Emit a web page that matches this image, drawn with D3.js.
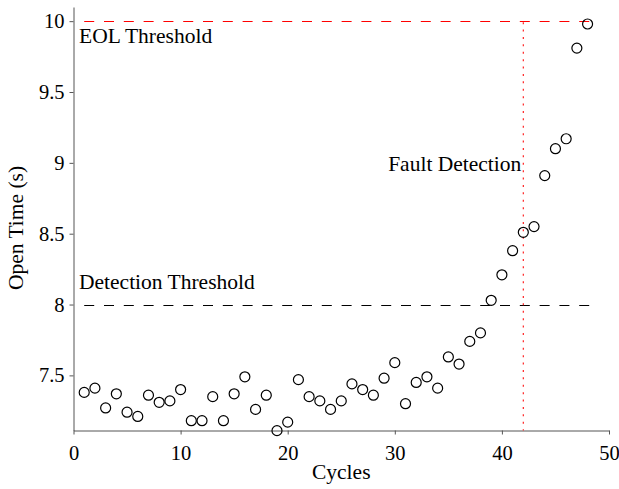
<!DOCTYPE html>
<html>
<head>
<meta charset="utf-8">
<script src="https://cdn.jsdelivr.net/npm/d3@7"></script>
<style>
  body { margin: 0; background: #fff; }
</style>
</head>
<body>
<script>
const cycles = [1, 2, 3, 4, 5, 6, 7, 8, 9, 10, 11, 12, 13, 14, 15, 16, 17, 18, 19, 20, 21, 22, 23, 24,
    25, 26, 27, 28, 29, 30, 31, 32, 33, 34, 35, 36, 37, 38, 39, 40, 41, 42, 43, 44, 45, 46, 47, 48];
const openTime = [7.38, 7.41, 7.27, 7.37, 7.24, 7.21, 7.36, 7.31, 7.32, 7.40, 7.18, 7.18, 7.35, 7.18,
    7.37, 7.49, 7.26, 7.36, 7.11, 7.17, 7.47, 7.35, 7.32, 7.26, 7.32, 7.44, 7.40, 7.36, 7.48, 7.59,
    7.30, 7.45, 7.49, 7.41, 7.63, 7.58, 7.74, 7.80, 8.03, 8.21, 8.38, 8.51, 8.55, 8.91, 9.10, 9.17,
    9.81, 9.98];
const xTicks = [0, 10, 20, 30, 40, 50];
const yTicks = [7.5, 8, 8.5, 9, 9.5, 10];
const yTickLabels = ['7.5', '8', '8.5', '9', '9.5', '10'];
const eolThreshold = 10;
const detectionThreshold = 8;
const faultCycle = 42;
const lineCycles = [1, 49];

const FONT = 'Liberation Serif';

// serif on every text node, set right on the element
function serif (sel, size) {
    sel.attr('font-family', FONT)
       .attr('font-size', size)
       .style('font-family', "'Liberation Serif', 'Times New Roman', serif")
       .style('font-size', size + 'px')
       .attr('fill', '#000');
}

function draw () {
    const width  = 619;
    const height = 489;

    const svg = d3.select('body').append('svg')
        .attr('width', width)
        .attr('height', height);

    const X = d3.scaleLinear()
        .domain([0, 50])
        .range([73.5, 609]);

    const Y = d3.scaleLinear()
        .domain([7.111, 10.1])
        .range([430.5, 7]);

    const x_axis = d3.axisBottom(X)
        .tickValues(xTicks)
        .tickSize(4)
        .tickSizeOuter(0)
        .tickPadding(11);

    const y_axis = d3.axisLeft(Y)
        .tickValues(yTicks)
        .tickFormat((d, i) => yTickLabels[i])
        .tickSize(4)
        .tickSizeOuter(0)
        .tickPadding(5);

    svg.append('g')
        .attr('transform', 'translate(0 430.5)')
        .call(x_axis)
        .call(g => g.selectAll('.domain, .tick line').attr('stroke', '#555'))
        .call(g => g.selectAll('text').call(serif, 20.5));

    svg.append('g')
        .attr('transform', 'translate(73.5 0)')
        .call(y_axis)
        .call(g => g.selectAll('.domain, .tick line').attr('stroke', '#555'))
        .call(g => g.selectAll('text').call(serif, 20.5));

    // threshold lines
    const hLine = d3.line().x(d => X(d[0])).y(d => Math.round(Y(d[1])) + 0.5);

    svg.append('path')
        .attr('d', hLine(lineCycles.map(c => [c, eolThreshold])))
        .attr('stroke', '#ff0000')
        .attr('stroke-width', 1)
        .attr('stroke-dasharray', '10,9.8')
        .attr('fill', 'none');

    svg.append('path')
        .attr('d', hLine(lineCycles.map(c => [c, detectionThreshold])))
        .attr('stroke', '#000')
        .attr('stroke-width', 1)
        .attr('stroke-dasharray', '10,9.8')
        .attr('fill', 'none');

    svg.append('path')
        .attr('d', d3.line()([[X(faultCycle), Y(eolThreshold) + 1], [X(faultCycle), Y.range()[0]]]))
        .attr('stroke', '#ff2020')
        .attr('stroke-width', 1.2)
        .attr('stroke-dasharray', '2,5.4')
        .attr('fill', 'none');

    // measurements
    svg.append('g')
        .selectAll('circle')
        .data(cycles)
        .join('circle')
        .attr('cx', d => X(d))
        .attr('cy', (d, i) => Y(openTime[i]))
        .attr('r', 5)
        .attr('fill', 'none')
        .attr('stroke', '#000')
        .attr('stroke-width', 1.2);

    // annotations
    svg.append('text')
        .attr('x', X(0) + 5.5)
        .attr('y', Y(eolThreshold) + 22)
        .call(serif, 21.5)
        .text('EOL Threshold');

    svg.append('text')
        .attr('x', X(0) + 5.5)
        .attr('y', Y(detectionThreshold) - 16)
        .call(serif, 21.5)
        .text('Detection Threshold');

    svg.append('text')
        .attr('x', X(faultCycle) - 2)
        .attr('y', Y(9) + 8)
        .attr('text-anchor', 'end')
        .call(serif, 21.5)
        .text('Fault Detection');

    // axis titles
    svg.append('text')
        .attr('x', (X(0) + X(50)) / 2)
        .attr('y', 479)
        .attr('text-anchor', 'middle')
        .call(serif, 21.5)
        .text('Cycles');

    svg.append('text')
        .attr('transform', 'translate(23 228) rotate(-90)')
        .attr('text-anchor', 'middle')
        .call(serif, 21.5)
        .text('Open Time (s)');
}

draw();
</script>
</body>
</html>
